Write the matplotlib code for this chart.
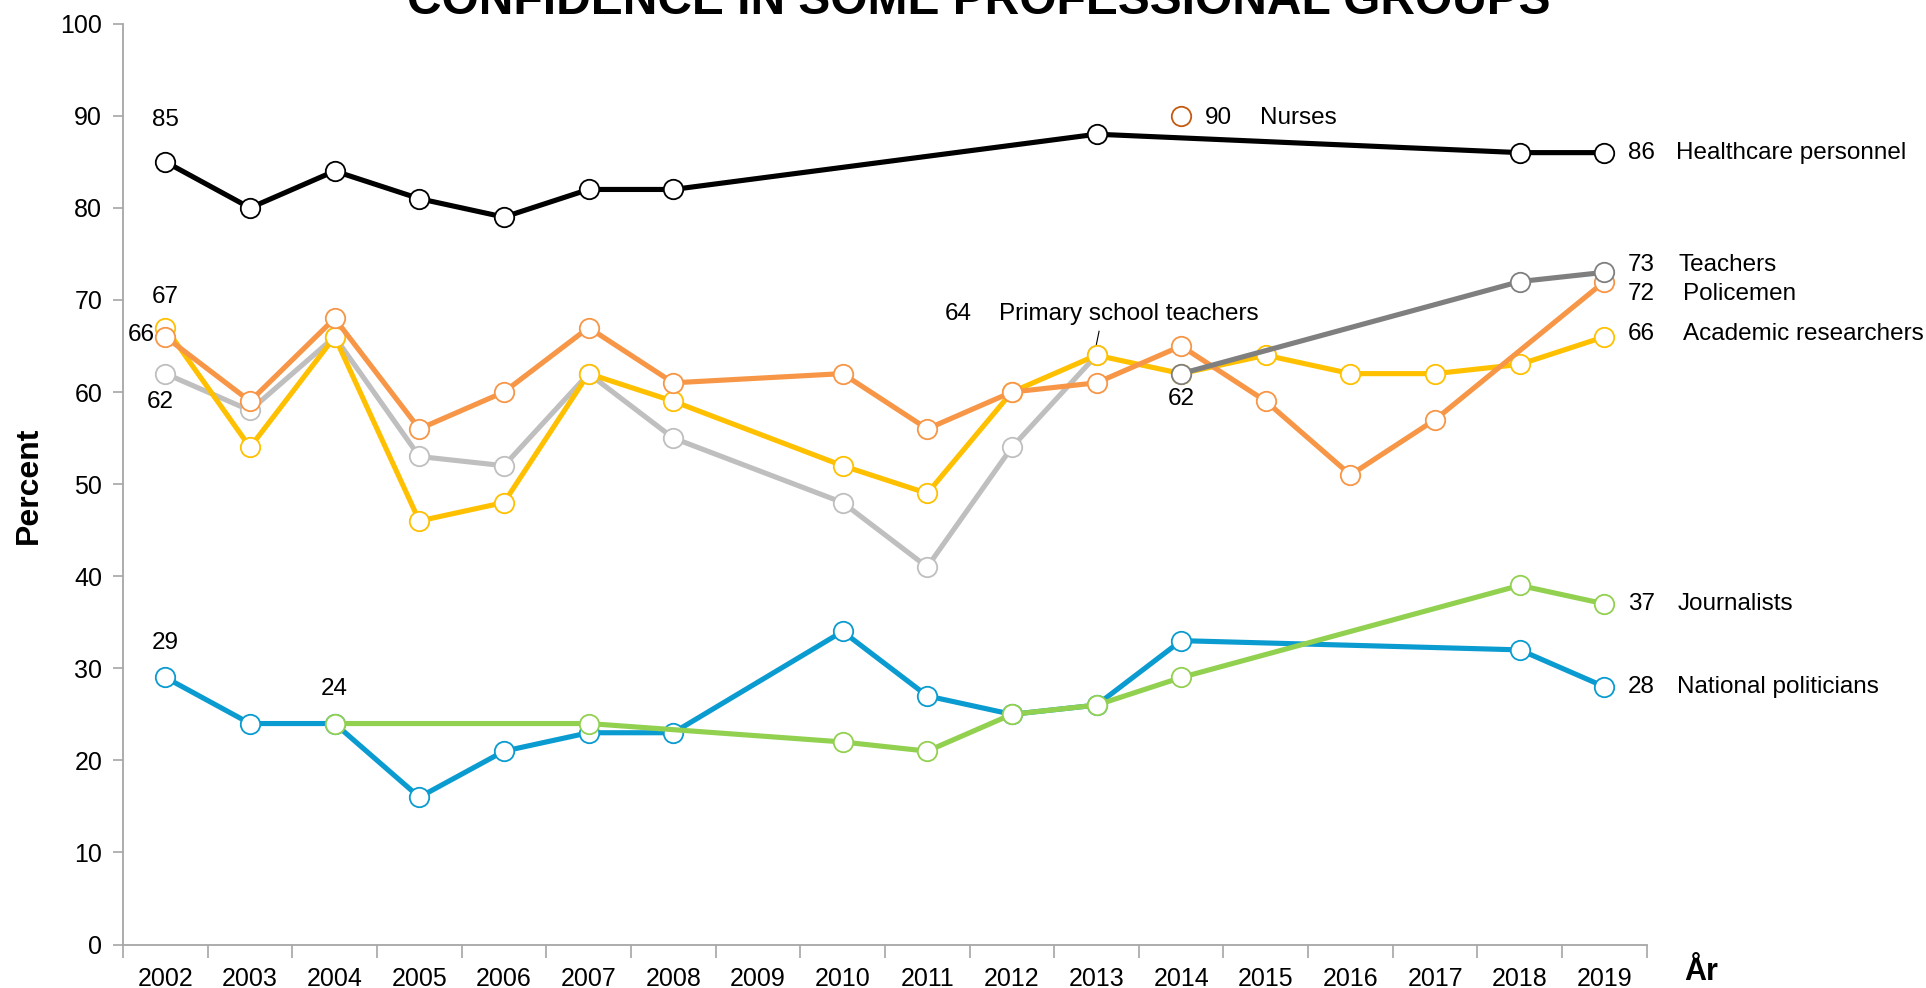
import numpy as np
import matplotlib.pyplot as plt

plt.rcParams['font.family'] = ['Liberation Sans', 'DejaVu Sans']

years = [str(y) for y in range(2002, 2020)]
nan = np.nan

# values per year 2002..2019 (nan = not measured)
healthcare = [85, 80, 84, 81, 79, 82, 82, nan, nan, nan, nan, 88, nan, nan, nan, nan, 86, 86]
policemen = [66, 59, 68, 56, 60, 67, 61, nan, 62, 56, 60, 61, 65, 59, 51, 57, nan, 72]
researchers = [67, 54, 66, 46, 48, 62, 59, nan, 52, 49, 60, 64, 62, 64, 62, 62, 63, 66]
primary_teachers = [62, 58, 66, 53, 52, 62, 55, nan, 48, 41, 54, 64, nan, nan, nan, nan, nan, nan]
teachers = [nan] * 12 + [62, nan, nan, nan, 72, 73]
journalists = [nan, nan, 24, nan, nan, 24, nan, nan, 22, 21, 25, 26, 29, nan, nan, nan, 39, 37]
politicians = [29, 24, 24, 16, 21, 23, 23, nan, 34, 27, 25, 26, 33, nan, nan, nan, 32, 28]
nurses_year = '2014'
nurses_value = 90

series = [
    ('National politicians', politicians, '#0A9BD0'),
    ('Journalists', journalists, '#92D050'),
    ('Primary school teachers', primary_teachers, '#BFBFBF'),
    ('Academic researchers', researchers, '#FFC000'),
    ('Policemen', policemen, '#F79646'),
    ('Teachers', teachers, '#7F7F7F'),
    ('Healthcare personnel', healthcare, '#000000'),
]

fs = 17.5

fig = plt.figure(figsize=(19.26, 9.88), dpi=100)
ax = fig.add_axes([0.0639, 0.044, 0.7911, 0.932])

x_all = np.arange(len(years))
for name, vals, col in series:
    v = np.array(vals, dtype=float)
    ok = ~np.isnan(v)
    ax.plot(x_all[ok], v[ok], color=col, lw=3.7, marker='o', ms=14,
            mfc='white', mec=col, mew=1.3, clip_on=False, zorder=3)

# nurses single point
nx = years.index(nurses_year)
ax.plot([nx], [nurses_value], 'o', ms=14, mfc='white', mec='#C55A11', mew=1.3, zorder=3)
ax.text(nx + 0.28, nurses_value - 0.2, '90', fontsize=fs, va='center')
ax.text(nx + 0.93, nurses_value - 0.2, 'Nurses', fontsize=fs, va='center')

# right end labels
last = len(years) - 1
right_labels = [
    (86, 'Healthcare personnel', 86, 0.85),
    (73, 'Teachers', 73.8, 0.87),
    (72, 'Policemen', 70.6, 0.93),
    (66, 'Academic researchers', 66.3, 0.93),
    (37, 'Journalists', 37, 0.86),
    (28, 'National politicians', 28, 0.86),
]
for num, name, ypos, off in right_labels:
    ax.text(last + 0.28, ypos, str(num), fontsize=fs, va='center')
    ax.text(last + off, ypos, name, fontsize=fs, va='center')

# start labels
ax.text(0, 89.5, '85', fontsize=fs, ha='center', va='center')
ax.text(0, 70.3, '67', fontsize=fs, ha='center', va='center')
ax.text(-0.28, 66.2, '66', fontsize=fs, ha='center', va='center')
ax.text(-0.06, 58.9, '62', fontsize=fs, ha='center', va='center')
ax.text(0, 32.7, '29', fontsize=fs, ha='center', va='center')
ax.text(2, 27.7, '24', fontsize=fs, ha='center', va='center')
ax.text(12, 59.2, '62', fontsize=fs, ha='center', va='center')
ax.text(9.37, 68.5, '64', fontsize=fs, ha='center', va='center')
ax.text(9.85, 68.5, 'Primary school teachers', fontsize=fs, va='center')
ax.plot([11.03, 10.99], [66.6, 64.8], color='black', lw=0.8)

ax.set_xlim(-0.5, len(years) - 0.5)
ax.set_ylim(0, 100)
ax.set_yticks(np.arange(0, 101, 10))
ax.set_xticks(np.arange(-0.5, len(years), 1.0))
ax.set_xticklabels([])
ax.set_xticks(x_all, minor=True)
ax.set_xticklabels(years, minor=True)
ax.tick_params(axis='x', which='minor', length=0, labelsize=18, pad=16)
ax.tick_params(axis='x', which='major', length=9, color='#A6A6A6', width=1.2)
ax.tick_params(axis='y', length=7, color='#A6A6A6', width=1.2, labelsize=18, pad=8)
for s in ['top', 'right']:
    ax.spines[s].set_visible(False)
for s in ['left', 'bottom']:
    ax.spines[s].set_color('#A6A6A6')
    ax.spines[s].set_linewidth(1.3)

fig.text(0.015, 0.509, 'Percent', rotation=90, fontsize=23, fontweight='bold',
         ha='center', va='center')
fig.text(0.883, 0.016, 'År', fontsize=22, fontweight='bold', ha='center', va='center')
fig.text(0.508, 0.986, 'CONFIDENCE IN SOME PROFESSIONAL GROUPS', fontsize=34.5,
         fontweight='bold', ha='center', va='baseline')

fig.savefig('out.png', dpi=100)
